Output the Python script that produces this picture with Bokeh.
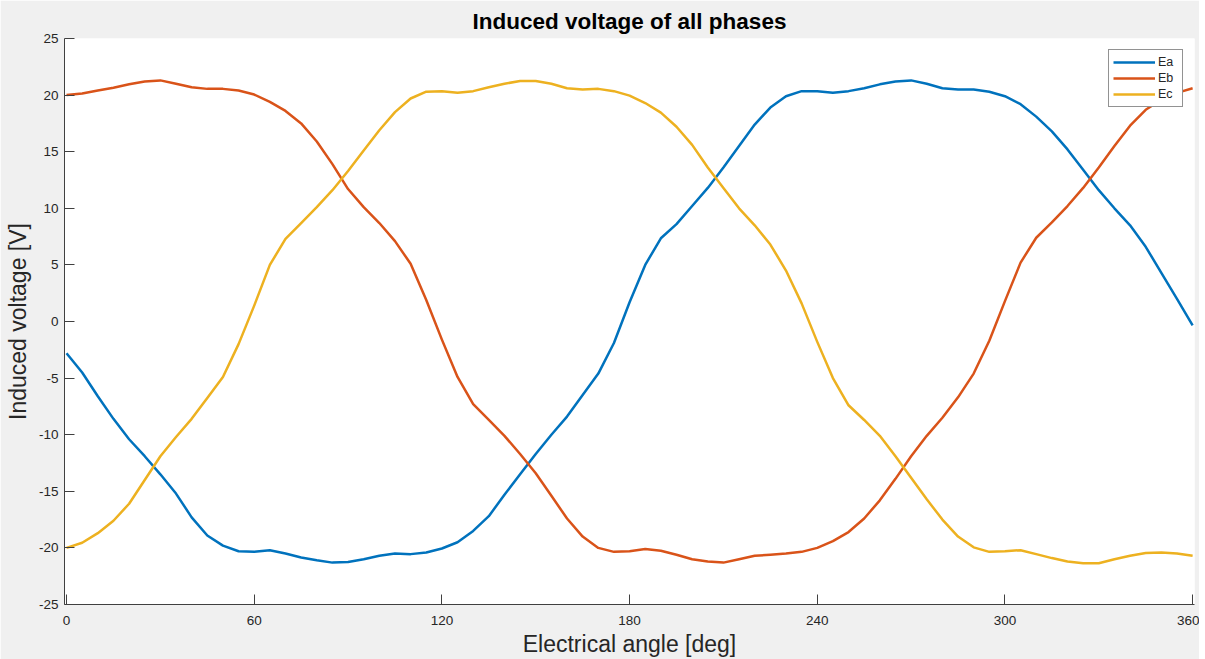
from bokeh.plotting import figure
from bokeh.models import Range1d, FixedTicker, Legend, LegendItem
from bokeh.embed import file_html
from bokeh.resources import INLINE

angle = list(range(0, 361, 5))

Ea = [-2.8, -4.5, -6.6, -8.6, -10.4, -11.9, -13.5, -15.2, -17.3, -18.9,
      -19.8, -20.3, -20.35, -20.2, -20.5, -20.85, -21.1, -21.3, -21.25, -21.0,
      -20.7, -20.5, -20.55, -20.4, -20.05, -19.5, -18.5, -17.2, -15.3, -13.5,
      -11.7, -10.0, -8.4, -6.5, -4.6, -1.9, 1.7, 5.0, 7.35, 8.6,
      10.2, 11.8, 13.6, 15.5, 17.4, 18.9, 19.9, 20.35, 20.35, 20.2,
      20.35, 20.6, 20.95, 21.2, 21.3, 21.0, 20.6, 20.5, 20.5, 20.3,
      19.9, 19.2, 18.1, 16.8, 15.2, 13.4, 11.6, 10.0, 8.5, 6.6,
      4.3, 2.0, -0.35]

Eb = [20.0, 20.15, 20.4, 20.65, 20.95, 21.2, 21.3, 21.0, 20.7, 20.55,
      20.55, 20.4, 20.05, 19.4, 18.6, 17.5, 15.9, 13.9, 11.7, 10.1,
      8.7, 7.1, 5.1, 1.9, -1.6, -4.9, -7.3, -8.7, -10.1, -11.7,
      -13.4, -15.4, -17.4, -19.0, -20.0, -20.35, -20.3, -20.1, -20.25, -20.6,
      -21.0, -21.2, -21.3, -21.0, -20.7, -20.6, -20.5, -20.35, -20.0, -19.4,
      -18.6, -17.4, -15.8, -13.9, -11.9, -10.1, -8.5, -6.7, -4.6, -1.7,
      1.8, 5.2, 7.4, 8.75, 10.2, 11.8, 13.6, 15.5, 17.3, 18.7,
      19.6, 20.2, 20.6]

Ec = [-20.0, -19.55, -18.7, -17.6, -16.1, -14.0, -11.9, -10.2, -8.6, -6.75,
      -4.9, -2.0, 1.4, 5.0, 7.3, 8.7, 10.1, 11.6, 13.3, 15.1,
      16.9, 18.5, 19.7, 20.3, 20.35, 20.2, 20.35, 20.7, 21.0, 21.25,
      21.25, 21.0, 20.6, 20.5, 20.55, 20.35, 19.95, 19.3, 18.45, 17.2,
      15.6, 13.6, 11.8, 10.0, 8.5, 6.8, 4.5, 1.6, -1.8, -5.0,
      -7.4, -8.7, -10.1, -11.9, -13.8, -15.7, -17.5, -19.0, -19.95, -20.35,
      -20.3, -20.2, -20.55, -20.9, -21.2, -21.35, -21.35, -21.0, -20.7, -20.45,
      -20.4, -20.5, -20.7]

series_names = ["Ea", "Eb", "Ec"]
series_colors = ["#0072BD", "#D95319", "#EDB120"]
x_ticks = [0, 60, 120, 180, 240, 300, 360]
y_ticks = [-25, -20, -15, -10, -5, 0, 5, 10, 15, 20, 25]

FONT = "Liberation Sans"
TXT = "#262626"

p = figure(frame_width=1130, frame_height=566,
           x_range=Range1d(-0.65, 360.6), y_range=Range1d(-25, 25),
           output_backend="svg", toolbar_location=None,
           min_border_left=64, min_border_right=5, min_border_top=38, min_border_bottom=53,
           title="Induced voltage of all phases")

p.border_fill_color = "#F0F0F0"
p.background_fill_color = "white"
p.outline_line_color = None
p.grid.grid_line_color = None

p.title.align = "center"
p.title.text_font = FONT
p.title.text_font_size = "22.5px"
p.title.text_font_style = "bold"
p.title.text_color = "black"
p.title.standoff = 9
p.title.offset = 0

for ax in (p.xaxis[0], p.yaxis[0]):
    ax.axis_line_color = "#404040"
    ax.major_tick_line_color = "#404040"
    ax.major_tick_in = 10
    ax.major_tick_out = 0
    ax.minor_tick_line_color = None
    ax.major_label_text_font = FONT
    ax.major_label_text_font_size = "13.5px"
    ax.major_label_text_color = TXT
    ax.axis_label_text_font = FONT
    ax.axis_label_text_font_size = "23px"
    ax.axis_label_text_font_style = "normal"
    ax.axis_label_text_color = TXT

p.xaxis.ticker = FixedTicker(ticks=x_ticks)
p.yaxis.ticker = FixedTicker(ticks=y_ticks)
p.xaxis.major_label_overrides = {t: str(t) for t in x_ticks}
p.yaxis.major_label_overrides = {t: str(t) for t in y_ticks}
p.xaxis.axis_label = "Electrical angle [deg]"
p.yaxis.axis_label = "Induced voltage [V]"
p.xaxis.major_label_standoff = 11
p.yaxis.major_label_standoff = 6
p.xaxis.axis_label_standoff = 3
p.yaxis.axis_label_standoff = 5

items = []
for name, vals, col in zip(series_names, [Ea, Eb, Ec], series_colors):
    r = p.line(angle, vals, line_color=col, line_width=2.5, line_join="round")
    items.append(LegendItem(label=name, renderers=[r]))

legend = Legend(items=items, location="top_right")
legend.margin = 11
legend.padding = 4
legend.spacing = 0
legend.glyph_width = 42
legend.glyph_height = 16
legend.label_height = 16
legend.label_standoff = 3
legend.label_text_font = FONT
legend.label_text_font_size = "12.5px"
legend.label_text_color = TXT
legend.border_line_color = "#262626"
legend.border_line_width = 1
legend.background_fill_color = "white"
legend.background_fill_alpha = 1
p.add_layout(legend)

open("out.html", "w").write(file_html(p, INLINE))
